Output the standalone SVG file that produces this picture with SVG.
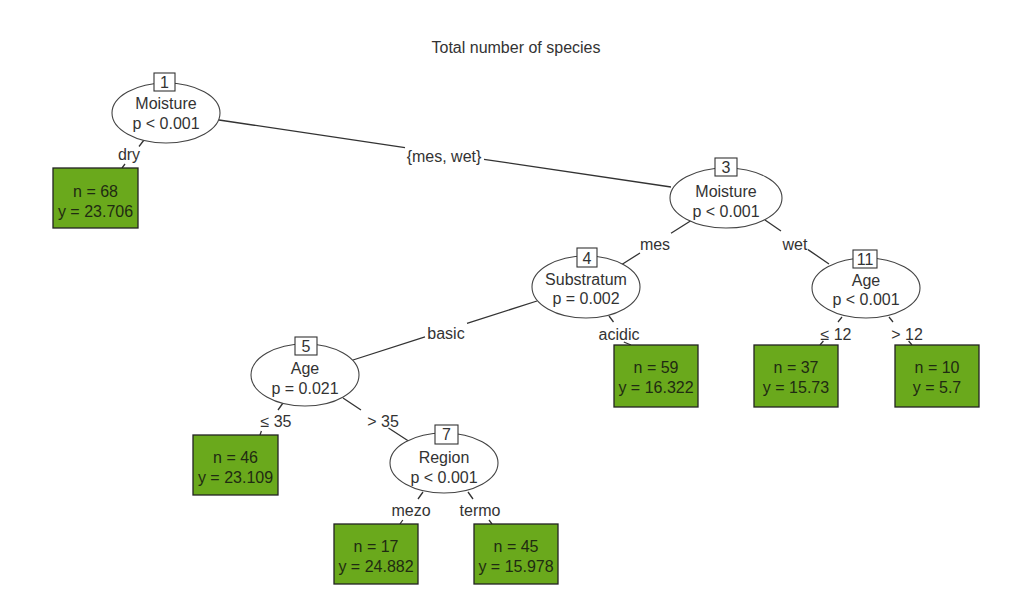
<svg xmlns="http://www.w3.org/2000/svg" width="1016" height="609" viewBox="0 0 1016 609">
<style>
text{font-family:"Liberation Sans",Arial,sans-serif;font-size:16px;fill:#333;text-anchor:middle}
.edge{stroke:#333;stroke-width:1.3;fill:none}
.el{fill:#fff;stroke:#444;stroke-width:1.1}
.idbox{fill:#fff;stroke:#333;stroke-width:1.1}
.leaf{fill:#6aa91c;stroke:#222;stroke-width:1.3}
.lt{fill:#1f2b12}
</style>
<rect width="1016" height="609" fill="#fff"/>
<text x="516" y="53">Total number of species</text>
<g id="connectors">
<path class="edge" d="M144,140 L139,146.5 M125,164 L122,168"/>
<path class="edge" d="M219,120 L405,147.6 M484,159.3 L671,187"/>
<path class="edge" d="M692,220 L671,233.3 M640,253 L621,265"/>
<path class="edge" d="M765,220 L781,231 M808,249.6 L829,264"/>
<path class="edge" d="M537,301 L467,323.4 M425,336.9 L353,360"/>
<path class="edge" d="M609,316 L613.5,322 M623.8,342 L631,345"/>
<path class="edge" d="M842,317 L838,322 M823.4,341 L820,345"/>
<path class="edge" d="M889,317 L893,322 M908.6,341 L912,345"/>
<path class="edge" d="M283,403 L278,410 M261.4,431 L260,435"/>
<path class="edge" d="M343,398 L361,410 M388.5,428 L410,442"/>
<path class="edge" d="M423,492 L418,499 M402.8,520 L400,524"/>
<path class="edge" d="M468,492 L473,499 M489,520 L492,524"/>
<text x="129" y="160">dry</text>
<text x="444" y="162">{mes, wet}</text>
<text x="655" y="250">mes</text>
<text x="795" y="250">wet</text>
<text x="446" y="339">basic</text>
<text x="619" y="340">acidic</text>
<text x="836" y="340">≤ 12</text>
<text x="907" y="340">&gt; 12</text>
<text x="276" y="427">≤ 35</text>
<text x="383" y="427">&gt; 35</text>
<text x="411" y="516">mezo</text>
<text x="480" y="516">termo</text>
</g>
<g id="node1">
<ellipse class="el" cx="166" cy="113" rx="54" ry="30"/>
<rect class="idbox" x="154" y="73" width="21" height="18"/>
<text x="164.5" y="88">1</text>
<text x="166" y="109">Moisture</text>
<text x="166" y="129">p &lt; 0.001</text>
</g>
<g id="node2">
<rect class="leaf" x="53" y="168" width="85" height="60"/>
<text class="lt" x="95.5" y="197">n = 68</text>
<text class="lt" x="95.5" y="217">y = 23.706</text>
</g>
<g id="node3">
<ellipse class="el" cx="726" cy="198" rx="56" ry="30"/>
<rect class="idbox" x="715" y="158" width="22" height="18"/>
<text x="726" y="173">3</text>
<text x="726" y="197">Moisture</text>
<text x="726" y="217">p &lt; 0.001</text>
</g>
<g id="node4">
<ellipse class="el" cx="586" cy="287" rx="54" ry="31"/>
<rect class="idbox" x="577" y="248" width="20" height="19"/>
<text x="587" y="264">4</text>
<text x="586" y="285">Substratum</text>
<text x="586" y="304">p = 0.002</text>
</g>
<g id="node5">
<ellipse class="el" cx="305" cy="375" rx="54" ry="31"/>
<rect class="idbox" x="295" y="337" width="22" height="18"/>
<text x="306" y="352">5</text>
<text x="305" y="374">Age</text>
<text x="305" y="394">p = 0.021</text>
</g>
<g id="node6">
<rect class="leaf" x="193" y="435" width="85" height="60"/>
<text class="lt" x="235.5" y="463">n = 46</text>
<text class="lt" x="235.5" y="483">y = 23.109</text>
</g>
<g id="node7">
<ellipse class="el" cx="444" cy="463" rx="54" ry="30"/>
<rect class="idbox" x="435" y="425" width="23" height="19"/>
<text x="446.5" y="440">7</text>
<text x="444" y="463">Region</text>
<text x="444" y="483">p &lt; 0.001</text>
</g>
<g id="node8">
<rect class="leaf" x="334" y="524" width="84" height="60"/>
<text class="lt" x="376" y="552">n = 17</text>
<text class="lt" x="376" y="572">y = 24.882</text>
</g>
<g id="node9">
<rect class="leaf" x="474" y="524" width="84" height="60"/>
<text class="lt" x="516" y="552">n = 45</text>
<text class="lt" x="516" y="572">y = 15.978</text>
</g>
<g id="node10">
<rect class="leaf" x="614" y="345" width="84" height="62"/>
<text class="lt" x="656" y="373">n = 59</text>
<text class="lt" x="656" y="393">y = 16.322</text>
</g>
<g id="node11">
<ellipse class="el" cx="866" cy="288" rx="54" ry="30"/>
<rect class="idbox" x="853" y="250" width="24" height="18"/>
<text x="865" y="265">11</text>
<text x="866" y="286">Age</text>
<text x="866" y="305">p &lt; 0.001</text>
</g>
<g id="node12">
<rect class="leaf" x="754" y="345" width="84" height="62"/>
<text class="lt" x="796" y="373">n = 37</text>
<text class="lt" x="796" y="393">y = 15.73</text>
</g>
<g id="node13">
<rect class="leaf" x="895" y="345" width="84" height="62"/>
<text class="lt" x="937" y="373">n = 10</text>
<text class="lt" x="937" y="393">y = 5.7</text>
</g>
</svg>
